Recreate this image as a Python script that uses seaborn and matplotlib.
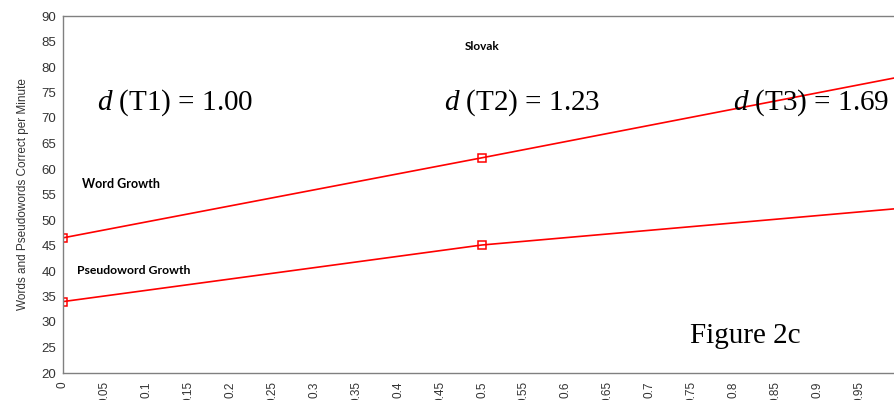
import pandas as pd
import seaborn as sns
import matplotlib.pyplot as plt

# growth estimates (time scaled 0..1)
time = [0, 0.5, 1.0]
word_growth = [46.5, 62.2, 78.1]
pseudo_growth = [34.0, 45.1, 52.3]
x_ticks = [0, 0.05, 0.1, 0.15, 0.2, 0.25, 0.3, 0.35, 0.4, 0.45, 0.5,
           0.55, 0.6, 0.65, 0.7, 0.75, 0.8, 0.85, 0.9, 0.95]
y_ticks = list(range(20, 95, 5))
effect_labels = ["$d$ (T1) = 1.00", "$d$ (T2) = 1.23", "$d$ (T3) = 1.69"]

data = pd.DataFrame({
    "time": time * 2,
    "wcpm": word_growth + pseudo_growth,
    "measure": ["Word Growth"] * 3 + ["Pseudoword Growth"] * 3,
})

sns.set_style("white")
plt.rcParams["font.family"] = ["Liberation Sans", "DejaVu Sans"]
plt.rcParams["mathtext.fontset"] = "custom"
plt.rcParams["mathtext.it"] = "Liberation Serif:italic"
plt.rcParams["mathtext.rm"] = "Liberation Serif"

fig = plt.figure(figsize=(8.95, 4), dpi=100)
ax = fig.add_axes([63 / 895, 27 / 400, 838 / 895, 357 / 400])

sns.lineplot(data=data, x="time", y="wcpm", hue="measure",
             palette=["red", "red"], marker="s", markersize=6,
             markerfacecolor="none", markeredgecolor="red",
             markeredgewidth=1.1, linewidth=1.2, legend=False, ax=ax)

ax.set_xlim(0, 1)
ax.set_ylim(20, 90)
ax.set_xticks(x_ticks)
ax.set_xticklabels([f"{t:g}" for t in x_ticks], rotation=90)
ax.set_yticks(y_ticks)
ax.tick_params(axis="both", direction="out", length=4, width=0.8,
               color="#808080", labelsize=9.5, labelcolor="#333333", pad=1)
ax.tick_params(axis="x", labelsize=8.5, pad=2)
ax.set_xlabel("")
ax.set_ylabel("Words and Pseudowords Correct per Minute", fontsize=8.5,
              color="#333333", labelpad=9)
for side in ["left", "bottom", "top"]:
    ax.spines[side].set_color("#808080")
    ax.spines[side].set_linewidth(1.0)
ax.spines["right"].set_visible(False)

# annotations
ax.text(0.5, 84.1, "Slovak", fontsize=8.5, fontweight="bold",
        family="Lato", ha="center", va="center", color="black")
ax.text(0.023, 57.1, "Word Growth", fontsize=9, fontweight="bold",
        family="Lato", ha="left", va="center", color="black")
ax.text(0.017, 40.0, "Pseudoword Growth", fontsize=8.8, fontweight="bold",
        family="Lato", ha="left", va="center", color="black")
for xpos, lab in zip([0.04, 0.455, 0.8], effect_labels):
    ax.text(xpos, 73.0, lab, fontsize=21, family="Liberation Serif",
            ha="left", va="center", color="black")
ax.text(0.748, 27.3, "Figure 2c", fontsize=21, family="Liberation Serif",
        ha="left", va="center", color="black")

fig.savefig("out.png", dpi=100)
